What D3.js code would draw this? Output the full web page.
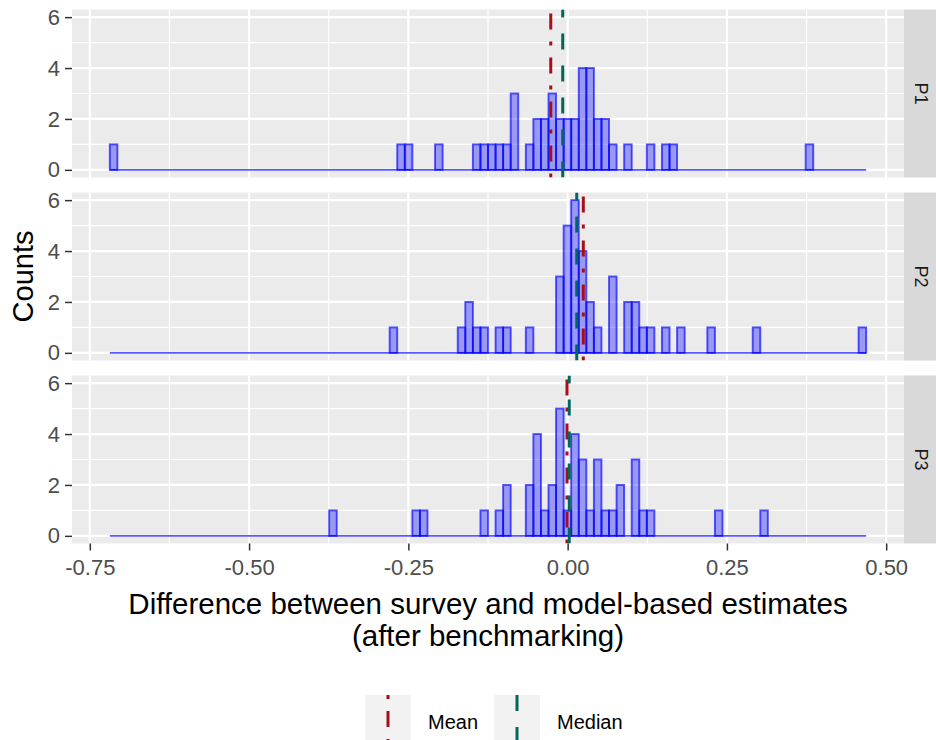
<!DOCTYPE html>
<html>
<head>
<meta charset="utf-8">
<script src="https://cdn.jsdelivr.net/npm/d3@7"></script>
<style>
    body { margin: 0; background: #fff; }
    text { font-family: Arial, 'Liberation Sans', sans-serif; }
</style>
</head>
<body>
<div class="chart"></div>
<script>

//////////
// DATA //
//////////

// histogram: 100 bins of equal width starting at binStart
var binStart = -0.7186,
    binWidth = 0.011872;

var panels = ['P1', 'P2', 'P3'];

var countsP1 = [
    1, 0, 0, 0, 0, 0, 0, 0, 0, 0,
    0, 0, 0, 0, 0, 0, 0, 0, 0, 0,
    0, 0, 0, 0, 0, 0, 0, 0, 0, 0,
    0, 0, 0, 0, 0, 0, 0, 0, 1, 1,
    0, 0, 0, 1, 0, 0, 0, 0, 1, 1,
    1, 1, 1, 3, 0, 1, 2, 2, 3, 2,
    2, 2, 4, 4, 2, 2, 1, 0, 1, 0,
    0, 1, 0, 1, 1, 0, 0, 0, 0, 0,
    0, 0, 0, 0, 0, 0, 0, 0, 0, 0,
    0, 0, 1, 0, 0, 0, 0, 0, 0, 0
];

var countsP2 = [
    0, 0, 0, 0, 0, 0, 0, 0, 0, 0,
    0, 0, 0, 0, 0, 0, 0, 0, 0, 0,
    0, 0, 0, 0, 0, 0, 0, 0, 0, 0,
    0, 0, 0, 0, 0, 0, 0, 1, 0, 0,
    0, 0, 0, 0, 0, 0, 1, 2, 1, 1,
    0, 1, 1, 0, 0, 1, 0, 0, 0, 3,
    5, 6, 4, 2, 1, 0, 3, 0, 2, 2,
    1, 1, 0, 1, 0, 1, 0, 0, 0, 1,
    0, 0, 0, 0, 0, 1, 0, 0, 0, 0,
    0, 0, 0, 0, 0, 0, 0, 0, 0, 1
];

var countsP3 = [
    0, 0, 0, 0, 0, 0, 0, 0, 0, 0,
    0, 0, 0, 0, 0, 0, 0, 0, 0, 0,
    0, 0, 0, 0, 0, 0, 0, 0, 0, 1,
    0, 0, 0, 0, 0, 0, 0, 0, 0, 0,
    1, 1, 0, 0, 0, 0, 0, 0, 0, 1,
    0, 1, 2, 0, 0, 2, 4, 1, 2, 5,
    1, 4, 3, 1, 3, 1, 1, 2, 0, 3,
    1, 1, 0, 0, 0, 0, 0, 0, 0, 0,
    1, 0, 0, 0, 0, 0, 1, 0, 0, 0,
    0, 0, 0, 0, 0, 0, 0, 0, 0, 0
];

var means = [-0.0265, 0.0246, -0.001],
    medians = [-0.0077, 0.0143, 0.0025];

var xTicks = [-0.75, -0.5, -0.25, 0, 0.25, 0.5],
    xMinor = [-0.625, -0.375, -0.125, 0.125, 0.375],
    yTicks = [0, 2, 4, 6],
    yMinor = [1, 3, 5];

var legendLabels = ['Mean', 'Median'];

//////////////////////
// INITIAL SETTINGS //
//////////////////////

var w = 936,
    h = 740;

var panelLeft = 72,
    panelRight = 904,
    panelHeight = 168,
    panelTops = [9.5, 192.5, 375.5],
    stripWidth = 32;

var meanColor = '#A50F15',
    medianColor = '#00665E';

var meanDash = '4,12,16,12',
    medianDash = '16,16';

//////////////////
// CREATING SVG //
//////////////////

var svg = d3.select('.chart')
    .append('svg')
    .attr('width', w)
    .attr('height', h);

////////////
// SCALES //
////////////

var histMin = binStart,
    histMax = binStart + binWidth * countsP1.length,
    pad = (histMax - histMin) * 0.05;

var xScale = d3.scaleLinear()
    .domain([histMin - pad, histMax + pad])
    .range([panelLeft, panelRight]);

var yScale = d3.scaleLinear()
    .domain([-0.3, 6.3])
    .range([panelHeight, 0]);

////////////////////
// DRAWING PANELS //
////////////////////

var allCounts = [countsP1, countsP2, countsP3];

panels.forEach(function(name, p) {

    var g = svg.append('g')
        .attr('transform', 'translate(0,' + panelTops[p] + ')');

    g.append('clipPath')
        .attr('id', 'clip' + p)
        .append('rect')
        .attr('x', panelLeft)
        .attr('y', 0)
        .attr('width', panelRight - panelLeft)
        .attr('height', panelHeight);

    // background
    g.append('rect')
        .attr('x', panelLeft)
        .attr('y', 0)
        .attr('width', panelRight - panelLeft)
        .attr('height', panelHeight)
        .attr('fill', '#EBEBEB');

    // minor grid
    g.selectAll('.xminor')
        .data(xMinor)
        .enter()
        .append('line')
        .attr('x1', function(d) { return xScale(d); })
        .attr('x2', function(d) { return xScale(d); })
        .attr('y1', 0)
        .attr('y2', panelHeight)
        .attr('stroke', '#fff')
        .attr('stroke-width', 1.1);

    g.selectAll('.yminor')
        .data(yMinor)
        .enter()
        .append('line')
        .attr('x1', panelLeft)
        .attr('x2', panelRight)
        .attr('y1', function(d) { return yScale(d); })
        .attr('y2', function(d) { return yScale(d); })
        .attr('stroke', '#fff')
        .attr('stroke-width', 1.1);

    // major grid
    g.selectAll('.xmajor')
        .data(xTicks)
        .enter()
        .append('line')
        .attr('x1', function(d) { return xScale(d); })
        .attr('x2', function(d) { return xScale(d); })
        .attr('y1', 0)
        .attr('y2', panelHeight)
        .attr('stroke', '#fff')
        .attr('stroke-width', 2.2);

    g.selectAll('.ymajor')
        .data(yTicks)
        .enter()
        .append('line')
        .attr('x1', panelLeft)
        .attr('x2', panelRight)
        .attr('y1', function(d) { return yScale(d); })
        .attr('y2', function(d) { return yScale(d); })
        .attr('stroke', '#fff')
        .attr('stroke-width', 2.2);

    // histogram bars
    g.selectAll('.bar')
        .data(allCounts[p])
        .enter()
        .append('rect')
        .attr('class', 'bar')
        .attr('x', function(d, i) { return xScale(binStart + i * binWidth); })
        .attr('width', function(d, i) {
            return xScale(binStart + (i + 1) * binWidth) - xScale(binStart + i * binWidth);
        })
        .attr('y', function(d) { return yScale(d); })
        .attr('height', function(d) { return yScale(0) - yScale(d); })
        .attr('fill', 'blue')
        .attr('fill-opacity', 0.35)
        .attr('stroke', 'blue')
        .attr('stroke-opacity', 0.65)
        .attr('stroke-width', 1.9);

    // empty bins still get an outline, which gives the baseline
    g.append('line')
        .attr('x1', xScale(histMin))
        .attr('x2', xScale(histMax))
        .attr('y1', yScale(0))
        .attr('y2', yScale(0))
        .attr('stroke', 'blue')
        .attr('stroke-opacity', 0.65)
        .attr('stroke-width', 1.9);

    // mean and median lines, drawn bottom to top like ggplot
    var lines = g.append('g')
        .attr('clip-path', 'url(#clip' + p + ')');

    lines.append('line')
        .attr('x1', xScale(means[p]))
        .attr('x2', xScale(means[p]))
        .attr('y1', panelHeight)
        .attr('y2', 0)
        .attr('stroke', meanColor)
        .attr('stroke-width', 3)
        .attr('stroke-dasharray', meanDash);

    lines.append('line')
        .attr('x1', xScale(medians[p]))
        .attr('x2', xScale(medians[p]))
        .attr('y1', panelHeight)
        .attr('y2', 0)
        .attr('stroke', medianColor)
        .attr('stroke-width', 3)
        .attr('stroke-dasharray', medianDash);

    // y axis
    var yAxis = d3.axisLeft(yScale)
        .tickValues(yTicks)
        .tickSize(7)
        .tickPadding(5)
        .tickFormat(d3.format('d'));

    var ya = g.append('g')
        .attr('transform', 'translate(' + panelLeft + ',0)')
        .call(yAxis);

    ya.select('.domain').remove();
    ya.selectAll('line').attr('stroke', '#333').attr('stroke-width', 1.5);
    ya.selectAll('text')
        .attr('fill', '#4D4D4D')
        .style('font-size', '22px');

    // strip
    g.append('rect')
        .attr('x', panelRight)
        .attr('y', 0)
        .attr('width', stripWidth)
        .attr('height', panelHeight)
        .attr('fill', '#D9D9D9');

    g.append('text')
        .attr('transform', 'translate(' + (panelRight + 17) + ',' + (panelHeight / 2) + ') rotate(90)')
        .attr('text-anchor', 'middle')
        .attr('dy', '0.35em')
        .attr('fill', '#1A1A1A')
        .style('font-size', '18px')
        .text(name);
});

////////////
// X AXIS //
////////////

var xAxis = d3.axisBottom(xScale)
    .tickValues(xTicks)
    .tickSize(7)
    .tickPadding(9);

var xa = svg.append('g')
    .attr('transform', 'translate(0,' + (panelTops[2] + panelHeight) + ')')
    .call(xAxis);

xa.select('.domain').remove();
xa.selectAll('line').attr('stroke', '#333').attr('stroke-width', 1.5);
xa.selectAll('text')
    .attr('fill', '#4D4D4D')
    .style('font-size', '22px')
    .text(function(d) { return d3.format('.2f')(d).replace('−', '-'); });

/////////////////
// AXIS TITLES //
/////////////////

var titleX = svg.append('text')
    .attr('text-anchor', 'middle')
    .attr('fill', '#000')
    .style('font-size', '29.5px');

titleX.append('tspan')
    .attr('x', (panelLeft + panelRight) / 2)
    .attr('y', 614)
    .text('Difference between survey and model-based estimates');

titleX.append('tspan')
    .attr('x', (panelLeft + panelRight) / 2)
    .attr('y', 646)
    .text('(after benchmarking)');

svg.append('text')
    .attr('transform', 'translate(33,' + ((panelTops[0] + panelTops[2] + panelHeight) / 2) + ') rotate(-90)')
    .attr('text-anchor', 'middle')
    .attr('fill', '#000')
    .style('font-size', '29px')
    .text('Counts');

////////////
// LEGEND //
////////////

var keyX = [365, 494],
    keyColors = [meanColor, medianColor],
    keyDash = [meanDash, medianDash];

var legend = svg.selectAll('.legend')
    .data(legendLabels)
    .enter()
    .append('g')
    .attr('class', 'legend');

legend.append('rect')
    .attr('x', function(d, i) { return keyX[i]; })
    .attr('y', 695)
    .attr('width', 46)
    .attr('height', 55)
    .attr('fill', '#F2F2F2');

legend.append('line')
    .attr('x1', function(d, i) { return keyX[i] + 23; })
    .attr('x2', function(d, i) { return keyX[i] + 23; })
    .attr('y1', 695)
    .attr('y2', 750)
    .attr('stroke', function(d, i) { return keyColors[i]; })
    .attr('stroke-width', 3)
    .attr('stroke-dasharray', function(d, i) { return keyDash[i]; });

legend.append('text')
    .attr('x', function(d, i) { return keyX[i] + 63; })
    .attr('y', 722)
    .attr('dy', '0.35em')
    .attr('fill', '#000')
    .style('font-size', '20px')
    .text(function(d) { return d; });

</script>
</body>
</html>
